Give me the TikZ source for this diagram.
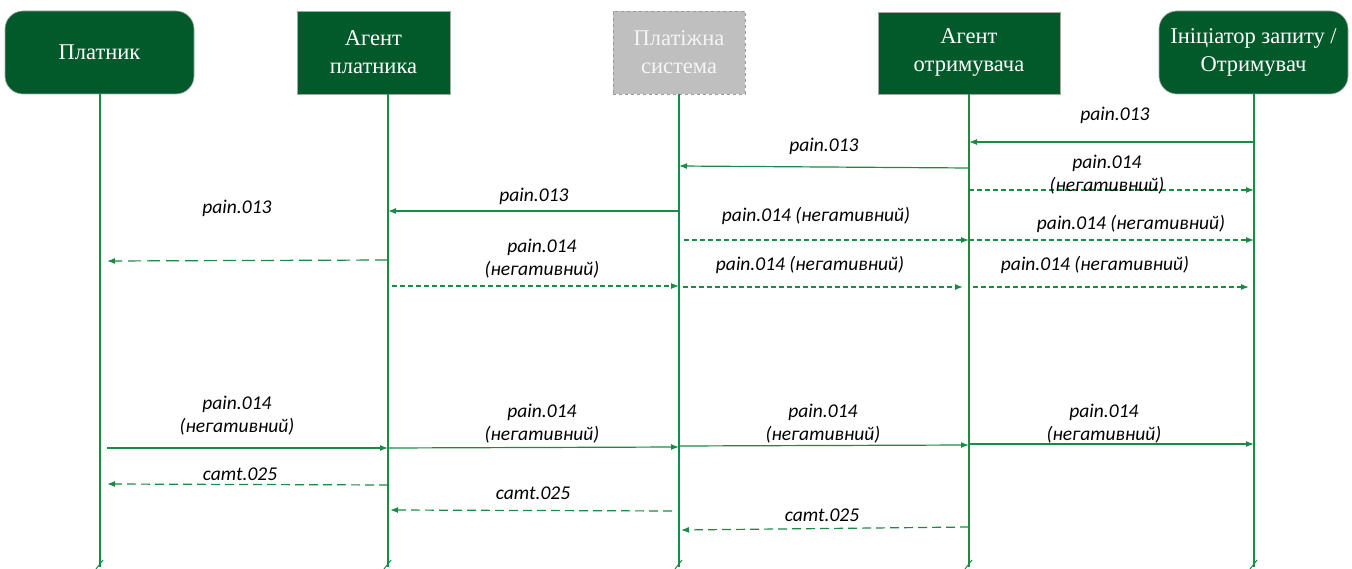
\documentclass[tikz,border=0pt]{standalone}
\usepackage{fontspec}
\setmainfont{Liberation Serif}
\newfontfamily\msgfont{Carlito}
\usetikzlibrary{arrows.meta}
\definecolor{boxgreen}{HTML}{025A2B}
\definecolor{linegreen}{HTML}{1B8A45}
\definecolor{sysgray}{HTML}{BFBFBF}
\begin{document}
\begin{tikzpicture}[x=1pt,y=-1pt,
  actor/.style={draw=gray!70,line width=0.6pt,fill=boxgreen,text=white,
    align=center,inner sep=0pt,font=\fontsize{22.5}{28}\selectfont},
  roundactor/.style={actor,rounded corners=18pt},
  sysbox/.style={actor,fill=sysgray,draw=gray!80,dashed,text=gray!8},
  lifeline/.style={draw=linegreen,line width=1.1pt},
  msg/.style={draw=linegreen,line width=1.2pt,-{Latex[length=8pt,width=6pt]}},
  msgneg/.style={msg,dash pattern=on 5pt off 3pt},
  msglong/.style={msg,dash pattern=on 13pt off 6pt},
  msgcamt/.style={msg,dash pattern=on 9pt off 5pt},
  lbl/.style={font=\msgfont\itshape\fontsize{19.5}{23}\selectfont,align=center,inner sep=0pt}]
\useasboundingbox (0,0) rectangle (1352,569);

% participants
\node[roundactor,minimum width=189pt,minimum height=83pt] (b1) at (99.5,52.5) {Платник};
\node[actor,minimum width=153pt,minimum height=83pt] (b2) at (373.5,52.5) {Агент\\платника};
\node[sysbox,minimum width=132pt,minimum height=83pt] (b3) at (679,52.5) {Платіжна\\система};
\node[actor,minimum width=182pt,minimum height=82pt] (b4) at (969,53) {Агент\\отримувача};
\node[roundactor,minimum width=189pt,minimum height=83pt] (b5) at (1253.5,52.5) {Ініціатор запиту /\\Отримувач};

% lifelines, each closed by a small slash
\coordinate (t1) at (100,94);  \coordinate (e1) at (100,567);
\coordinate (t2) at (388,94);  \coordinate (e2) at (388,567);
\coordinate (t3) at (679,94);  \coordinate (e3) at (679,567);
\coordinate (t4) at (969,94);  \coordinate (e4) at (969,567);
\coordinate (t5) at (1254,94); \coordinate (e5) at (1254,567);
\foreach \i in {1,...,5}{
  \draw[lifeline] (t\i) -- (e\i);
  \draw[lifeline,line width=1pt] ([shift={(-4,2)}]e\i) -- ([shift={(3,-7)}]e\i);
}

% request chain
\coordinate (a1s) at (1254,142); \coordinate (a1e) at (969,142);
\draw[msg] (a1s) -- (a1e);
\node[lbl] (l1) at (1115,115) {pain.013};

\coordinate (a2s) at (969,168); \coordinate (a2e) at (679,166);
\draw[msg] (a2s) -- (a2e);
\node[lbl] (l2) at (824,146) {pain.013};

\coordinate (a3s) at (969,190); \coordinate (a3e) at (1254,190);
\draw[msgneg] (a3s) -- (a3e);
\node[lbl] (l3) at (1107,175) {pain.014\\(негативний)};

\coordinate (a4s) at (679,211); \coordinate (a4e) at (388,211);
\draw[msg] (a4s) -- (a4e);
\node[lbl] (l4) at (534,196) {pain.013};

\coordinate (a5s) at (388,260); \coordinate (a5e) at (107,261);
\draw[msglong] (a5s) -- (a5e);
\node[lbl] (l5) at (237,208) {pain.013};

\coordinate (a6s) at (684,240); \coordinate (a6e) at (969,240);
\draw[msgneg] (a6s) -- (a6e);
\node[lbl] (l6) at (816,216) {pain.014 (негативний)};

\coordinate (a7s) at (969,240); \coordinate (a7e) at (1254,240);
\draw[msgneg] (a7s) -- (a7e);
\node[lbl] (l7) at (1131,224) {pain.014 (негативний)};

\coordinate (a8s) at (392,286); \coordinate (a8e) at (679,286);
\draw[msgneg] (a8s) -- (a8e);
\node[lbl] (l8) at (542,259) {pain.014\\(негативний)};

\coordinate (a9s) at (683,287); \coordinate (a9e) at (963,287);
\draw[msgneg] (a9s) -- (a9e);
\node[lbl] (l9) at (810,265) {pain.014 (негативний)};

\coordinate (a10s) at (973,287); \coordinate (a10e) at (1249,287);
\draw[msgneg] (a10s) -- (a10e);
\node[lbl] (l10) at (1095,265) {pain.014 (негативний)};

% forwarding chain
\coordinate (a11s) at (107,448); \coordinate (a11e) at (388,448);
\draw[msg] (a11s) -- (a11e);
\node[lbl] (l11) at (237,416) {pain.014\\(негативний)};

\coordinate (a12s) at (388,448); \coordinate (a12e) at (679,447);
\draw[msg] (a12s) -- (a12e);
\node[lbl] (l12) at (542,424) {pain.014\\(негативний)};

\coordinate (a13s) at (679,446); \coordinate (a13e) at (969,445);
\draw[msg] (a13s) -- (a13e);
\node[lbl] (l13) at (823,424) {pain.014\\(негативний)};

\coordinate (a14s) at (969,444); \coordinate (a14e) at (1254,444);
\draw[msg] (a14s) -- (a14e);
\node[lbl] (l14) at (1104,424) {pain.014\\(негативний)};

% status reports
\coordinate (a15s) at (388,485); \coordinate (a15e) at (107,484);
\draw[msgcamt] (a15s) -- (a15e);
\node[lbl] (l15) at (240,474) {camt.025};

\coordinate (a16s) at (672,511); \coordinate (a16e) at (390,510);
\draw[msgcamt] (a16s) -- (a16e);
\node[lbl] (l16) at (533,493) {camt.025};

\coordinate (a17s) at (969,527); \coordinate (a17e) at (681,530);
\draw[msgcamt] (a17s) -- (a17e);
\node[lbl] (l17) at (822,515) {camt.025};
\end{tikzpicture}
\end{document}
